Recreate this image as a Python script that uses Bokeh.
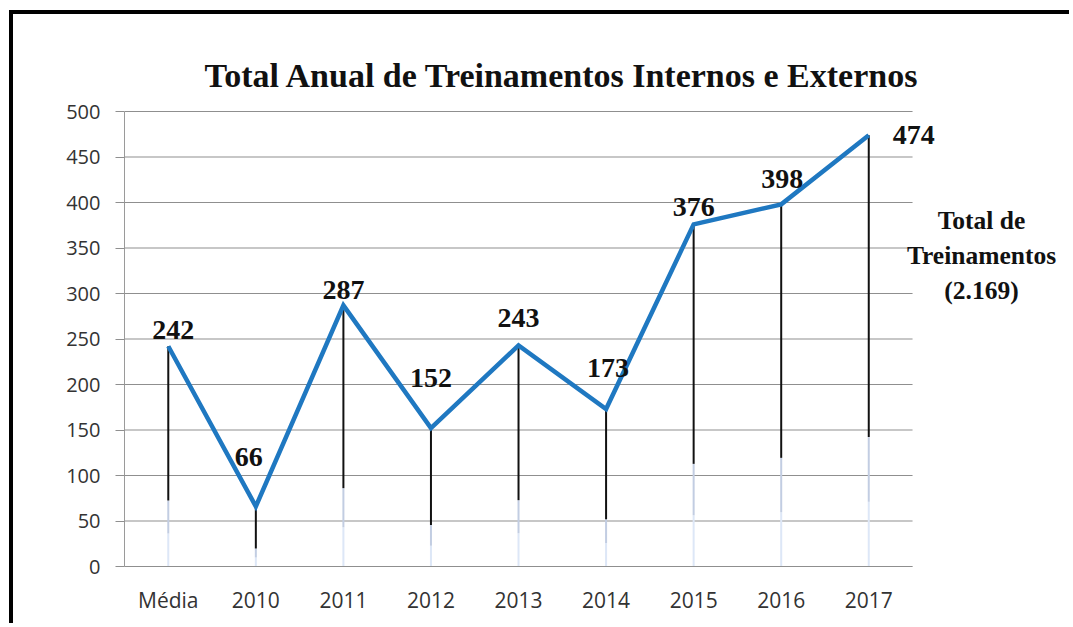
from bokeh.plotting import figure
from bokeh.models import ColumnDataSource, LabelSet, Label, Range1d, FixedTicker
from bokeh.embed import file_html
from bokeh.resources import INLINE

categories = ["Média", "2010", "2011", "2012", "2013", "2014", "2015", "2016", "2017"]
values = [242, 66, 287, 152, 243, 173, 376, 398, 474]
y_ticks = [0, 50, 100, 150, 200, 250, 300, 350, 400, 450, 500]
total_label = "Total de\nTreinamentos\n(2.169)"
title_text = "Total Anual de Treinamentos  Internos e Externos"

# label placement (pixels)
label_dx = [5, -7, 0, 0, 0, 2, 0, 1, 45]
label_dy = [16, 49, 15, 50, 27, 41, 17, 25, 0]

xpos = [i + 0.5 for i in range(len(categories))]
n = len(categories)
fade = [0.3 * v for v in values]
fade_mid = [0.15 * v for v in values]

src = ColumnDataSource(dict(
    x=xpos, y=values, zero=[0] * n, fade=fade, fade_mid=fade_mid,
    lab=[str(v) for v in values], dx=label_dx, dy=label_dy,
))

# frame covers the whole right/top area so that labels beyond the data area are visible
px_per_cat = 87.56
px_per_unit = 0.91
x_end = 949 / px_per_cat
y_end = 500 + 97 / px_per_unit

p = figure(
    x_range=Range1d(0, x_end),
    y_range=Range1d(0, y_end),
    width=1060, height=613,
    output_backend="svg", toolbar_location=None,
    min_border_left=111, min_border_right=0, min_border_top=0, min_border_bottom=61,
)
p.styles = {"margin-left": "9px", "margin-top": "10px",
            "border-top": "4px solid black", "border-left": "4px solid black"}
p.background_fill_color = "white"
p.border_fill_color = "white"
p.outline_line_color = None

p.xgrid.grid_line_color = None
p.ygrid.grid_line_color = None

# horizontal gridlines over the category area only
p.segment(x0=[0] * len(y_ticks), x1=[n] * len(y_ticks), y0=y_ticks, y1=y_ticks,
          line_color="#8f8f8f", line_width=1.2)

# y axis
p.yaxis.ticker = FixedTicker(ticks=y_ticks)
p.yaxis.bounds = (0, 500)
p.yaxis.axis_line_color = "#9a9a9a"
p.yaxis.major_tick_line_color = "#8f8f8f"
p.yaxis.major_tick_out = 9
p.yaxis.major_tick_in = 0
p.yaxis.minor_tick_line_color = None
p.yaxis.major_label_text_font = "Open Sans"
p.yaxis.major_label_text_font_size = "20px"
p.yaxis.major_label_text_color = "#333333"
p.yaxis.major_label_standoff = 15

# x axis (categories)
p.xaxis.ticker = FixedTicker(ticks=xpos)
p.xaxis.major_label_overrides = {x: c for x, c in zip(xpos, categories)}
p.xaxis.bounds = (0, n)
p.xaxis.axis_line_color = "#8f8f8f"
p.xaxis.major_tick_line_color = None
p.xaxis.major_tick_out = 0
p.xaxis.major_tick_in = 0
p.xaxis.minor_tick_line_color = None
p.xaxis.major_label_text_font = "Open Sans"
p.xaxis.major_label_text_font_size = "21px"
p.xaxis.major_label_text_color = "#333333"
p.xaxis.major_label_standoff = 19

# drop lines
p.segment(x0="x", y0="zero", x1="x", y1="fade_mid", source=src, line_color="#dde7f7", line_width=2)
p.segment(x0="x", y0="fade_mid", x1="x", y1="fade", source=src, line_color="#c2cde2", line_width=2)
p.segment(x0="x", y0="fade", x1="x", y1="y", source=src, line_color="#111111", line_width=2)

# main line
p.line(x="x", y="y", source=src, line_color="#1f78c1", line_width=4.5, line_join="miter")

labels = LabelSet(x="x", y="y", text="lab", source=src, x_offset="dx", y_offset="dy",
                  text_align="center", text_baseline="middle",
                  text_font="Liberation Serif", text_font_style="bold",
                  text_font_size="28px", text_color="#111111")
p.add_layout(labels)

p.add_layout(Label(x=(981 - 124) / px_per_cat, y=(566 - 255) / px_per_unit, text=total_label,
                   text_align="center", text_baseline="middle",
                   text_font="Liberation Serif", text_font_style="bold", text_font_size="25.5px",
                   text_line_height=1.2, text_color="#111111"))

p.add_layout(Label(x=(566 - 124) / px_per_cat, y=(566 - 75) / px_per_unit, text=title_text,
                   text_align="center", text_baseline="middle",
                   text_font="Liberation Serif", text_font_style="bold", text_font_size="34px",
                   text_color="#111111"))

open("out.html", "w").write(file_html(p, INLINE))
